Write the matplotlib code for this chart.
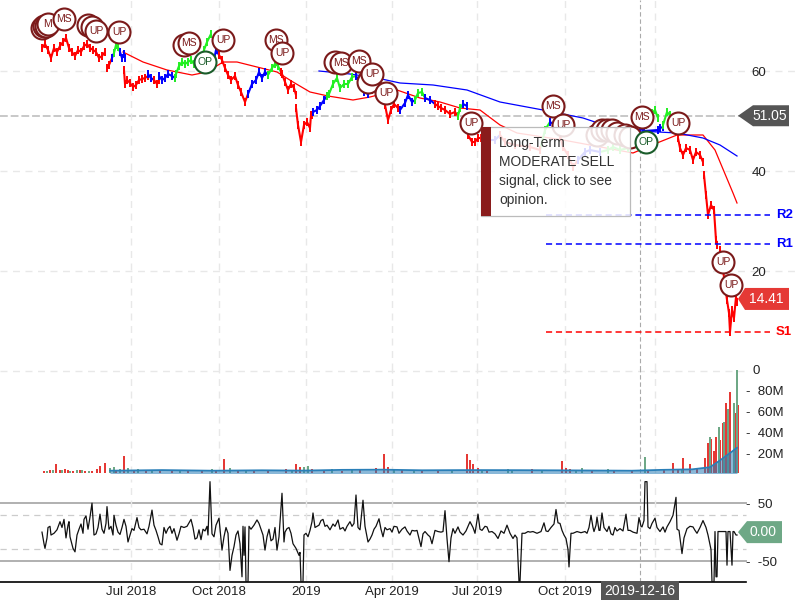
import matplotlib
matplotlib.use('Agg')
import matplotlib.pyplot as plt
from matplotlib.patches import Polygon, Rectangle

plt.rcParams['font.family'] = ['Liberation Sans', 'DejaVu Sans']

RED = '#ff0000'
BLUE = '#0000ff'
GREEN = '#22f022'
DARK = '#7b1a1a'

### x values are bar numbers counted from the first bar of the chart
tick_bars = [89, 177, 264, 350, 435, 523, 613]
tick_names = ['Jul 2018', 'Oct 2018', '2019', 'Apr 2019', 'Jul 2019', 'Oct 2019', '']
cross_bar = 598
cross_name = '2019-12-16'
last_close = 51.05
last_price = 14.41
last_osc = 0.00

###price pieces
seg_colors = [RED, RED, BLUE, GREEN, BLUE, RED, BLUE, RED, BLUE, GREEN, BLUE, RED, BLUE, GREEN, RED, RED, BLUE,
              GREEN, BLUE, RED, BLUE, GREEN, BLUE, RED, GREEN, BLUE, RED, GREEN, BLUE, RED, BLUE, GREEN, RED,
              BLUE, GREEN, BLUE, GREEN, RED, RED, RED]
seg_bars = [
    [0, 3, 6, 9, 12, 15, 18, 21, 24, 27, 30, 33, 36, 39, 42, 45, 48, 51, 54, 57, 60, 63],
    [65, 67, 70], [70, 72], [72, 74, 76, 78], [78, 80, 82, 83],
    [82, 83, 85, 88, 91, 94, 97, 100, 103, 106], [106, 109, 112], [112, 115, 117],
    [117, 120, 123, 126, 130, 133],
    [133, 134, 137, 140, 143, 146, 149, 152, 155, 158, 162, 165, 169], [172, 174, 177],
    [177, 180, 183, 186, 189, 193, 196, 199, 203, 206], [206, 210, 214, 217, 220, 223, 226],
    [226, 230, 233, 236, 239], [239, 240, 243, 246, 249, 252, 254],
    [254, 256, 259, 262, 265, 268, 269, 270], [271, 275, 278, 282, 285],
    [285, 287, 291, 295, 298, 302, 306, 310, 314], [314, 318, 322, 326, 330],
    [330, 335, 340, 343, 346, 349, 352, 356, 358], [358, 363, 366, 370, 373],
    [373, 376, 380, 383], [383, 388, 393], [393, 396, 399, 403, 408, 413, 416],
    [416, 418, 421], [421, 425], [426, 430, 433, 436, 439, 444, 447],
    [498, 503, 508], [447, 453, 458], [458, 463, 473, 488, 498], [508, 513],
    [558, 566, 571, 578, 586, 590], [513, 518, 521, 526, 531, 536],
    [536, 543, 548, 558], [604, 610, 613, 616], [598, 602, 616, 618, 621], [621, 625, 628],
    [636, 638, 641, 644, 648, 651, 654, 658, 661],
    [662, 664, 666, 669, 672, 674, 675],
    [678, 680, 683, 685, 687, 688, 690, 692, 694, 695],
]
seg_prices = [
    [64.6, 65.4, 64.2, 62.6, 64.6, 63.8, 65, 65.8, 66.6, 64.6, 63.8, 63, 64.2, 63.8, 65, 65.4, 64.6, 64.2, 63.8, 62.6, 63, 63.8],
    [60.6, 61.2, 62.6], [62.6, 63.6], [63.6, 65.2, 64.8, 63.8], [63.8, 62.6, 63.4, 62.6],
    [60.2, 57.4, 58.2, 57.6, 56.8, 57.2, 58.2, 58.4, 58.6, 59], [59.4, 58.6, 58.2], [58.2, 57.4, 58.2],
    [59, 58.2, 58.6, 59.4, 59, 58.6],
    [58.6, 59.4, 61, 61.8, 61.4, 61.8, 62.2, 61.4, 61, 60.6, 64.2, 65.8, 67.4], [62.2, 64.2, 63.2],
    [63.2, 62.2, 60.6, 59.2, 58.2, 59, 57.2, 55.8, 53.8, 55.4], [55.4, 57.4, 58.2, 59.8, 58.6, 59.8, 59.2],
    [59.2, 60.6, 61.4, 61, 59.8], [59.8, 59.4, 57.8, 56.2, 57.4, 56.6, 55.2],
    [52.6, 49.2, 45.8, 49.2, 49.8, 48.6, 51.2, 51.2], [51.8, 52.2, 53, 54.2, 55],
    [55, 55.4, 57.4, 58.6, 56.6, 57.4, 57.4, 58.8, 59], [59, 57.8, 55.8, 55.4, 56.2],
    [56.2, 55.8, 54.6, 53.2, 50.2, 52.2, 53.4, 52.6, 52.2], [52.2, 53.6, 55.2, 53.8, 54.2],
    [54.2, 55.6, 55.8, 54.6], [54.6, 54.2, 53.4], [53.4, 53, 52.6, 52.2, 51.4, 51.8, 51],
    [51, 52.6, 53.4], [53.4, 53], [47.2, 45.8, 45.8, 46.6, 46.6, 45.6, 46.2],
    [44.2, 48.2, 49.8], [46.2, 46.2, 47.2], [47.2, 45.8, 45.2, 44.8, 44.2], [49.8, 49.2],
    [43.8, 44.2, 44.8, 44.2, 44.6, 45.2], [49.2, 47.2, 44.8, 43.2, 40.8, 42.2],
    [42.2, 43.8, 44.2, 43.8], [49.2, 51.6, 52.2, 50.6], [48.6, 48, 48.2, 48.6, 48.8], [49.2, 51.8, 51.2],
    [46.6, 44.6, 43.2, 44.6, 44.2, 42.2, 43.8, 43.2, 41.8],
    [39.2, 35.2, 31.2, 33.2, 32.2, 26.2, 25.2],
    [24.2, 21.8, 17.2, 14.2, 11.6, 7.8, 12.2, 10.6, 14.8, 13.8],
]

red_ma_bars = [81, 101, 125, 150, 165, 181, 195, 215, 235, 251, 268, 286, 311, 328, 355, 378, 398, 418, 438, 458, 475, 521, 591, 615, 635, 661, 673, 691, 695]
red_ma = [63.8, 61.8, 60.2, 59.2, 59.8, 61.8, 61.8, 60.8, 59.8, 57.8, 55.8, 55, 54.2, 54.8, 56.2, 54.6, 53.8, 52.6, 52.2, 49.2, 47.6, 46.2, 43.6, 45.6, 47.2, 47.2, 44.2, 35.6, 33.6]
blue_ma_bars = [277, 308, 335, 358, 391, 425, 458, 501, 541, 571, 598, 635, 661, 678, 695]
blue_ma = [60, 59.4, 58.6, 57.6, 57.2, 56.2, 53.8, 52.2, 50.6, 48.6, 48, 47.6, 46.6, 45.2, 43]

level_names = ['R2', 'R1', 'S1']
level_values = [31.2, 25.4, 7.8]
level_colors = [BLUE, BLUE, RED]

###signal badges, drawn in this order
badge_bars = [0, 2, 4, 6, 22, 46, 50, 54, 77, 142, 147, 163, 181, 234, 240, 293, 299, 317, 328, 326, 330, 344,
              429, 511, 521, 555, 560, 565, 570, 575, 583, 588, 600, 604, 636, 681, 689]
badge_prices = [68.6, 69, 69, 69.4, 70.4, 69.2, 68.8, 68, 67.8, 65.2, 65.6, 61.8, 66.2, 66.2, 63.6, 61.8, 61.6,
                62, 58.6, 57.8, 59.4, 55.6, 49.6, 53, 49.2, 47.2, 48.2, 48.2, 48.2, 47.6, 47.2, 46.8, 50.8,
                45.8, 49.6, 21.8, 17.2]
badge_names = ['', '', '', 'M', 'MS', '', '', 'UP', 'UP', '', 'MS', 'OP', 'UP', 'MS', 'UP', '', 'MS', 'MS',
               '', '', 'UP', 'UP', 'UP', 'MS', 'UP', '', '', '', '', 'U', 'P', '', 'MS', 'OP', 'UP', 'UP', 'UP']

###volume in millions
red_vol_bars = [2, 8, 14, 18, 23, 26, 31, 38, 43, 50, 55, 58, 63, 74, 82, 92, 104, 118, 130, 146, 160, 174, 182, 196, 212, 226, 244, 254, 258, 270, 282,
                300, 318, 334, 342, 346, 360, 380, 396, 425, 428, 431, 436, 445, 470, 490, 520, 524, 528, 550, 572, 590, 606, 622,
                631, 636, 641, 648, 655, 663, 666, 669, 672, 674, 678, 681, 684, 688, 693, 696]
red_vol = [2.5, 3.5, 9.8, 3.5, 4.5, 4, 3, 3.8, 3, 3.4, 4.5, 7.6, 10.5, 4, 17, 4, 3.5, 3, 3.5, 4, 3.5, 3, 14, 4, 3.5, 4, 4.5, 10, 7, 5, 3.5,
           3, 3.5, 6, 19, 7, 3.5, 3, 3, 19, 13, 10, 6, 4, 4, 5, 12, 6, 5, 4, 3.5, 3, 4, 4.5,
           11, 5, 15, 10, 6, 15, 30, 33, 22, 35, 32, 49, 68, 78, 58, 66]
green_vol_bars = [5, 11, 20, 28, 35, 40, 47, 68, 72, 78, 86, 96, 110, 138, 170, 188, 204, 250, 262, 266, 290, 310, 352, 372, 410, 440, 466, 470,
                  500, 534, 540, 566, 603, 640, 668, 677, 682, 686, 692, 695]
green_vol = [3, 4, 3.5, 3, 4, 3.5, 3, 6, 7, 5, 6, 5, 4, 3.5, 4.5, 6, 3.5, 4, 7, 8, 4.5, 3.5, 3.5, 4, 3.5, 3.5, 5, 3.5,
             3.5, 4, 6, 5, 16, 5, 35, 45, 50, 62, 68, 99]
vol_ma_bars = [68, 120, 170, 220, 260, 300, 340, 380, 430, 480, 530, 590, 620, 650, 668, 678, 688, 695]
vol_ma = [3.2, 3.8, 3.2, 3.6, 3.3, 4, 4.2, 3.6, 3.8, 3.7, 3.5, 3.2, 4, 4.5, 6.5, 13, 20, 25]
vol_tick_values = [20, 40, 60, 80]
vol_tick_names = ['-  20M', '-  40M', '-  60M', '-  80M']

###oscillator, (bar, value)
osc_pairs = [
    (0, 0), (2, -20), (3, -28), (5, -10), (6, 8), (8, 10), (9, -5), (12, -2), (15, 4), (18, 18), (20, 8), (22, 22),
    (24, -10), (26, 12), (27, 18), (28, -8), (31, -28), (33, -34), (35, -5), (37, 5), (39, 14), (41, -2), (42, 22),
    (44, 28), (46, 5), (48, 26), (50, 50), (52, -5), (54, -3), (56, 8), (58, 31), (60, 5), (62, -2), (64, 15), (65, 44),
    (67, 5), (69, 10), (71, -5), (72, 29), (74, 12), (76, 0), (78, -4), (80, 8), (82, 22), (84, 10), (86, -17), (88, -5),
    (90, 6), (92, 3), (95, 25), (97, 8), (99, 4), (102, 5), (105, -3), (107, 10), (110, 38), (112, 12), (114, 3), (116, -8),
    (118, -20), (120, -22), (122, 8), (124, -2), (126, 6), (128, 10), (130, -2), (132, 6), (135, -14), (137, -3), (139, 10),
    (142, 8), (145, 10), (147, 16), (149, 22), (151, 8), (153, -12), (155, -10), (157, 4), (159, -13), (161, 5), (163, 2),
    (165, 10), (166, -5), (168, 87), (170, -3), (172, -8), (174, 12), (177, 24), (179, -12), (180, -31), (182, -8), (184, 8),
    (186, -2), (188, -66), (190, -40), (192, -25), (194, -5), (196, 2), (198, -20), (200, -77), (201, 10), (202, -40),
    (203, 9), (204, -86), (206, -86), (207, 10), (209, 5), (212, 12), (215, 21), (217, 15), (219, 5), (221, -5), (223, -31),
    (225, -8), (227, 5), (229, -15), (231, -12), (233, 8), (235, -31), (237, -8), (240, 67), (242, -17), (243, 0), (245, 6),
    (247, 8), (249, -2), (251, -20), (254, -28), (257, -40), (258, -35), (259, -86), (261, -86), (262, -5), (264, -2),
    (266, -8), (268, 3), (270, 18), (271, 33), (273, 8), (275, 10), (277, 12), (279, 20), (281, 22), (283, 10), (285, 12),
    (288, 4), (291, 14), (293, 10), (296, 21), (298, 5), (301, 8), (303, 2), (305, 10), (308, 18), (310, 10), (312, 15),
    (314, 64), (316, 8), (318, 4), (321, 55), (323, 10), (326, -17), (328, -12), (330, -5), (332, 5), (334, 10), (337, 23),
    (339, 5), (341, -8), (343, 8), (345, 4), (348, 6), (350, 0), (352, 10), (355, 9), (357, -2), (360, 5), (363, 9), (365, 2),
    (368, -5), (370, 3), (373, 2), (375, 3), (379, -25), (381, -3), (383, 1), (386, -5), (388, -8), (390, -20), (393, 3),
    (396, 1), (399, 0), (401, 1), (403, 37), (405, -11), (407, -51), (409, -10), (411, 6), (413, -2), (416, 9), (418, 0),
    (421, -5), (424, 2), (428, 18), (431, 8), (433, -2), (436, 31), (438, 5), (440, 3), (443, 10), (445, 9), (447, 0), (450, 1),
    (453, -3), (456, -11), (459, 2), (462, -2), (465, 12), (468, -2), (471, -11), (473, -5), (475, -10), (477, -86), (478, -86),
    (480, -2), (483, -2), (486, 1), (488, 0), (491, 1), (495, -2), (499, 1), (502, 16), (504, 2), (506, 1), (509, 8), (512, 14),
    (514, 39), (516, 16), (518, 15), (520, 3), (522, -5), (524, -11), (526, -30), (527, -60), (529, -2), (531, -2), (535, 1),
    (539, -1), (543, 1), (545, -2), (547, 8), (549, 29), (551, 8), (552, 1), (554, 12), (555, 26), (557, 3), (558, 3), (560, 33),
    (562, 8), (565, 1), (567, 10), (569, -3), (571, -5), (573, 8), (575, 2), (578, 6), (581, 2), (584, 31), (586, 3), (588, 3),
    (591, 0), (595, -2), (597, 25), (599, 10), (600, 9), (602, 20), (603, 87), (605, 87), (606, 9), (608, 6), (610, 15), (613, 24),
    (615, 8), (618, 1), (621, 9), (623, 0), (625, 9), (628, 18), (631, 29), (634, 60), (635, 5), (637, 3), (640, -37), (642, -10),
    (645, 6), (648, 10), (651, 9), (653, 3), (655, -2), (658, 8), (661, 20), (664, 8), (666, -5), (669, -30), (670, -86), (672, -86),
    (673, 1), (674, -77), (675, -77), (676, 1), (679, 1), (681, 1), (684, 1), (685, -57), (686, 1), (688, 1), (690, -57), (691, 1),
    (692, 1), (694, -5), (695, -5),
]
osc_tick_values = [50, -50]
osc_tick_names = ['-  50', '-  -50']

tooltip_text = 'Long-Term\nMODERATE SELL\nsignal, click to see\nopinion.'


def add_tag(ax, value, text, color, left, body, right, half, per_unit):
    ### price tag with the arrow pointing at the last value
    h = half / per_unit
    pts = [(left, value), (body, value + h), (right, value + h), (right, value - h), (body, value - h)]
    ax.add_patch(Polygon(pts, closed=True, facecolor=color, edgecolor='none', zorder=20, clip_on=False))
    ax.text((body + right) / 2 - 1, value, text, color='white', fontsize=10, ha='center', va='center', zorder=21)


fig = plt.figure(figsize=(8, 6), dpi=100)
ax1 = fig.add_axes([0, 230 / 600, 1, 370 / 600])
ax2 = fig.add_axes([0, 127.5 / 600, 1, 103.5 / 600])
ax3 = fig.add_axes([0, 18 / 600, 1, 103 / 600])
ax1.set_ylim(0.2, 74.2)
ax2.set_ylim(1.5, 100)
ax3.set_ylim(-86, 91.6)

for ax in [ax1, ax2, ax3]:
    ax.set_xlim(-42, 758)
    ax.patch.set_alpha(0)
    ax.set_xticks(tick_bars)
    ax.set_xticklabels([])
    ax.tick_params(axis='x', length=0)
    ax.grid(axis='x', linestyle=(0, (5, 4)), color='#e8e8e8', linewidth=1, zorder=0)
    for s in ax.spines.values():
        s.set_visible(False)
    ax.axvline(cross_bar, color='#aaaaaa', linestyle=(0, (4, 2.5)), linewidth=0.8, zorder=1)
    ax.yaxis.tick_right()

###price panel
ax1.set_yticks([60, 40, 20])
ax1.set_yticklabels(['60', '40', '20'])
ax1.tick_params(axis='y', length=0, pad=-35, labelsize=9.5, labelcolor='#222222')
ax1.grid(axis='y', linestyle=(0, (5, 4)), color='#e8e8e8', linewidth=1, zorder=0)
ax1.axhline(last_close, xmax=0.93, color='#c8c8c8', linestyle=(0, (4, 1.5)), linewidth=1.4, zorder=1)
ax1.plot(red_ma_bars, red_ma, color=RED, linewidth=0.9, zorder=3)
ax1.plot(blue_ma_bars, blue_ma, color=BLUE, linewidth=0.9, zorder=3)
for c, b, p in zip(seg_colors, seg_bars, seg_prices):
    ax1.plot(b, p, color=c, linewidth=1.5, marker='|', markersize=6, markeredgewidth=1.4, zorder=4, solid_capstyle='butt')
for name, val, c in zip(level_names, level_values, level_colors):
    ax1.plot([504, 728], [val, val], color=c, linestyle=(0, (4, 2.5)), linewidth=1.1, zorder=5)
    ax1.text(734, val, name, color=c, fontsize=9.5, fontweight='bold', ha='left', va='center', zorder=5)

z = 6
for b, p, name in zip(badge_bars, badge_prices, badge_names):
    edge = '#1a5c2a' if name == 'OP' else DARK
    ax1.scatter([b], [p], s=250, facecolor='white', edgecolor=edge, linewidth=1.5, zorder=z)
    ax1.text(b, p, name, color=edge, fontsize=7.5, ha='center', va='center', zorder=z)
    z = z + 0.01

###tooltip
ax1.add_patch(Rectangle((439, 31), 149, 17.8, facecolor=(1, 1, 1, 0.86), edgecolor='#bbbbbb', linewidth=0.9, zorder=10))
ax1.add_patch(Rectangle((439, 31), 10, 17.8, facecolor='#8a1c1c', edgecolor='none', zorder=11))
ax1.text(457, 39.9, tooltip_text, color='#333333', fontsize=10, linespacing=1.48, ha='left', va='center', zorder=11)

add_tag(ax1, last_close, '51.05', '#555555', 696, 711, 747, 10.5, 5)
add_tag(ax1, last_price, '14.41', '#e53935', 696, 703, 747, 11, 5)

###volume panel
ax2.axhline(98, xmax=0.93, color='#e8e8e8', linestyle=(0, (5, 4)), linewidth=1, zorder=0)
ax2.bar(red_vol_bars, red_vol, width=1.3, color='#e53935', zorder=2, bottom=0)
ax2.bar(green_vol_bars, green_vol, width=1.3, color='#6ea886', zorder=2, bottom=0)
ax2.fill_between(vol_ma_bars, 0, vol_ma, color='#2a7fb8', alpha=0.55, linewidth=0, zorder=3)
ax2.plot(vol_ma_bars, vol_ma, color='#2a7fb8', linewidth=1.3, zorder=4)
ax2.set_yticks(vol_tick_values)
ax2.set_yticklabels(vol_tick_names)
ax2.tick_params(axis='y', length=0, pad=-39, labelsize=9.5, labelcolor='#222222')
ax2.text(714, 98, '0', fontsize=9.5, color='#222222', ha='center', va='center')

###oscillator panel
for v in [50, -50]:
    ax3.plot([-42, 704], [v, v], color='#b0b0b0', linewidth=1.4, zorder=1)
for v in [29, -29]:
    ax3.plot([-42, 704], [v, v], color='#cccccc', linestyle=(0, (5, 4)), linewidth=0.9, zorder=1)
ax3.plot([p[0] for p in osc_pairs], [p[1] for p in osc_pairs], color='#111111', linewidth=0.9, zorder=3)
ax3.set_yticks(osc_tick_values)
ax3.set_yticklabels(osc_tick_names)
ax3.tick_params(axis='y', length=0, pad=-39, labelsize=9.5, labelcolor='#222222')
ax3.spines['bottom'].set_visible(True)
ax3.spines['bottom'].set_bounds(-42, 704)
ax3.spines['bottom'].set_linewidth(1.2)
ax3.set_xticklabels(tick_names, fontsize=9.5, color='#222222')
ax3.tick_params(axis='x', pad=3)
add_tag(ax3, last_osc, '0.00', '#6ea886', 696, 705, 740, 11, 0.58)
ax3.text(cross_bar, -102, cross_name, color='white', fontsize=10, ha='center', va='center', clip_on=False,
         bbox=dict(facecolor='#555555', edgecolor='none', pad=2.5), zorder=20)

fig.savefig('out.png', dpi=100)
